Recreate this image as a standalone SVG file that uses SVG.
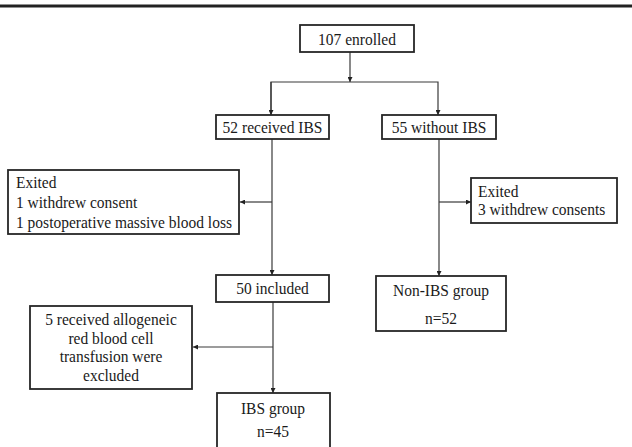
<svg xmlns="http://www.w3.org/2000/svg" width="632" height="447" viewBox="0 0 632 447">
<style>
.box{fill:#fff;stroke:#262626;stroke-width:1.8}
.t{font-family:"Liberation Serif","Times New Roman",serif;font-size:15.5px;fill:#1a1a1a}
.c{text-anchor:middle}
.ln{fill:none;stroke:#3a3a3a;stroke-width:1.2}
</style>
<defs>
<marker id="ah" viewBox="0 0 8 8" refX="8" refY="4" markerWidth="5" markerHeight="5" orient="auto" markerUnits="userSpaceOnUse">
<path d="M0,0 L8,4 L0,8 z" fill="#222"/>
</marker>
</defs>
<rect x="0" y="4.5" width="632" height="3" fill="#222"/>
<g id="connectors">
<line class="ln" x1="350" y1="52" x2="350" y2="82" marker-end="url(#ah)"/>
<polyline class="ln" points="271,115 271,82 438,82 438,115" marker-end="url(#ah)"/>
<line class="ln" x1="271" y1="82" x2="271" y2="115" marker-end="url(#ah)"/>
<line class="ln" x1="272" y1="139" x2="272" y2="275" marker-end="url(#ah)"/>
<line class="ln" x1="272" y1="202" x2="240" y2="202" marker-end="url(#ah)"/>
<line class="ln" x1="439" y1="139" x2="439" y2="276" marker-end="url(#ah)"/>
<line class="ln" x1="439" y1="202" x2="471" y2="202" marker-end="url(#ah)"/>
<line class="ln" x1="273" y1="302" x2="273" y2="393" marker-end="url(#ah)"/>
<line class="ln" x1="273" y1="347" x2="193" y2="347" marker-end="url(#ah)"/>
</g>
<g id="enrolled">
<rect class="box" x="300" y="25" width="114" height="27"/>
<text class="t c" transform="translate(357 45) scale(1 1.1)">107 enrolled</text>
</g>
<g id="received">
<rect class="box" x="216" y="115" width="113" height="24"/>
<text class="t c" transform="translate(272.5 133) scale(1 1.1)">52 received IBS</text>
</g>
<g id="without">
<rect class="box" x="382" y="115" width="114" height="24"/>
<text class="t c" transform="translate(439 133) scale(1 1.1)">55 without IBS</text>
</g>
<g id="exited-left">
<rect class="box" x="8" y="170" width="231" height="64"/>
<text class="t" transform="translate(16 188) scale(1 1.1)">Exited</text>
<text class="t" transform="translate(16 208) scale(1 1.1)">1 withdrew consent</text>
<text class="t" transform="translate(16 228) scale(1 1.1)">1 postoperative massive blood loss</text>
</g>
<g id="exited-right">
<rect class="box" x="471" y="178" width="146" height="45"/>
<text class="t" transform="translate(478 196.5) scale(1 1.05)">Exited</text>
<text class="t" transform="translate(478 215) scale(1 1.05)">3 withdrew consents</text>
</g>
<g id="included">
<rect class="box" x="216" y="275" width="113" height="27"/>
<text class="t c" transform="translate(272.5 294) scale(1 1.1)">50 included</text>
</g>
<g id="non-ibs">
<rect class="box" x="376" y="276" width="130" height="55"/>
<text class="t c" transform="translate(441 296) scale(1 1.1)">Non-IBS group</text>
<text class="t c" transform="translate(441 324) scale(1 1.1)">n=52</text>
</g>
<g id="excluded">
<rect class="box" x="30" y="306" width="162" height="83"/>
<text class="t c" transform="translate(111 325) scale(1 1.05)">5 received allogeneic</text>
<text class="t c" transform="translate(111 343.5) scale(1 1.05)">red blood cell</text>
<text class="t c" transform="translate(111 362) scale(1 1.05)">transfusion were</text>
<text class="t c" transform="translate(111 380.5) scale(1 1.05)">excluded</text>
</g>
<g id="ibs">
<rect class="box" x="217" y="393" width="113" height="60"/>
<text class="t c" transform="translate(273 414) scale(1 1.1)">IBS group</text>
<text class="t c" transform="translate(273 437) scale(1 1.1)">n=45</text>
</g>
</svg>
